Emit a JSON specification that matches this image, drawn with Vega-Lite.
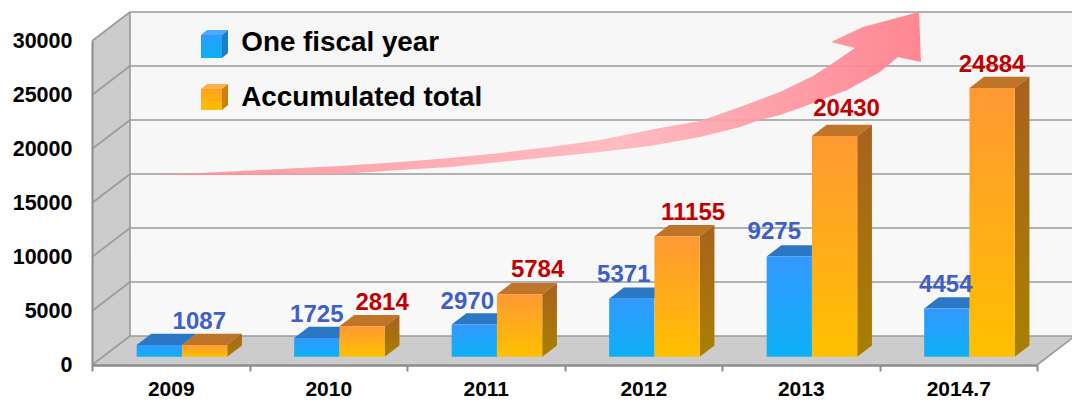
{"$schema":"https://vega.github.io/schema/vega-lite/v6.json","width":945,"height":324,"autosize":{"type":"none"},"padding":{"left":92,"top":41,"right":35,"bottom":36},"background":"white","config":{"view":{"stroke":null},"font":"Liberation Sans"},
"datasets":{
"bars":[{"year":"2009","series":"One fiscal year","value":1087},{"year":"2009","series":"Accumulated total","value":1087},{"year":"2010","series":"One fiscal year","value":1725},{"year":"2010","series":"Accumulated total","value":2814},{"year":"2011","series":"One fiscal year","value":2970},{"year":"2011","series":"Accumulated total","value":5784},{"year":"2012","series":"One fiscal year","value":5371},{"year":"2012","series":"Accumulated total","value":11155},{"year":"2013","series":"One fiscal year","value":9275},{"year":"2013","series":"Accumulated total","value":20430},{"year":"2014.7","series":"One fiscal year","value":4454},{"year":"2014.7","series":"Accumulated total","value":24884}],
"labels":[{"year":"2009","series":"One fiscal year","value":1087,"shift":40,"raise":23},{"year":"2010","series":"One fiscal year","value":1725,"shift":0,"raise":23},{"year":"2011","series":"One fiscal year","value":2970,"shift":-7,"raise":23},{"year":"2012","series":"One fiscal year","value":5371,"shift":-8,"raise":24},{"year":"2013","series":"One fiscal year","value":9275,"shift":-15,"raise":25},{"year":"2014.7","series":"One fiscal year","value":4454,"shift":-1,"raise":24},{"year":"2010","series":"Accumulated total","value":2814,"shift":20,"raise":23},{"year":"2011","series":"Accumulated total","value":5784,"shift":18,"raise":24},{"year":"2012","series":"Accumulated total","value":11155,"shift":16,"raise":23},{"year":"2013","series":"Accumulated total","value":20430,"shift":12,"raise":27},{"year":"2014.7","series":"Accumulated total","value":24884,"shift":0,"raise":22.5}],
"ticks":[{"t":0},{"t":5000},{"t":10000},{"t":15000},{"t":20000},{"t":25000},{"t":30000}],
"cubes":[{"series":"One fiscal year","top":30556,"base":28426},{"series":"Accumulated total","top":25556,"base":23611}],
"arrow":[{"n":0,"x":0.432,"y":17593},{"n":1,"x":0.813,"y":17870},{"n":2,"x":1.194,"y":18148},{"n":3,"x":1.575,"y":18426},{"n":4,"x":1.956,"y":18796},{"n":5,"x":2.273,"y":19167},{"n":6,"x":2.59,"y":19630},{"n":7,"x":2.908,"y":20185},{"n":8,"x":3.225,"y":20833},{"n":9,"x":3.606,"y":21944},{"n":10,"x":3.86,"y":22593},{"n":11,"x":4.114,"y":23889},{"n":12,"x":4.368,"y":25278},{"n":13,"x":4.578,"y":26759},{"n":14,"x":4.705,"y":27963},{"n":15,"x":4.844,"y":29352},{"n":16,"x":4.692,"y":29907},{"n":17,"x":4.895,"y":31296},{"n":18,"x":5.251,"y":32685},{"n":19,"x":5.263,"y":28056},{"n":20,"x":5.117,"y":28519},{"n":21,"x":5.003,"y":27130},{"n":22,"x":4.794,"y":25463},{"n":23,"x":4.495,"y":23796},{"n":24,"x":4.368,"y":23148},{"n":25,"x":4.241,"y":22685},{"n":26,"x":4.114,"y":22037},{"n":27,"x":3.86,"y":21111},{"n":28,"x":3.543,"y":20278},{"n":29,"x":3.225,"y":19722},{"n":30,"x":2.908,"y":19259},{"n":31,"x":2.59,"y":18796},{"n":32,"x":2.273,"y":18333},{"n":33,"x":1.956,"y":18056},{"n":34,"x":1.575,"y":17685},{"n":35,"x":1.003,"y":17593},{"n":36,"x":0.432,"y":17593}]
},
"layer":[
{"data":{"name":"ticks"},"transform":[{"filter":"datum.t===0"}],"mark":{"type":"rect","color":{"x1":0,"y1":0,"x2":0,"y2":1,"gradient":"linear","stops":[{"offset":0,"color":"#f6f6f6"},{"offset":1,"color":"#f9f9f9"}]}},"encoding":{"x":{"datum":0.2413,"type":"quantitative","scale":{"domain":[0,6],"nice":false,"zero":false},"axis":{"title":null,"values":[0,0.5,1,1.5,2,2.5,3,3.5,4,4.5,5,5.5,6],"labelExpr":"datum.value%1===0?'':['2009','2010','2011','2012','2013','2014.7'][floor(datum.value)]","tickOpacity":{"condition":{"test":"datum.value%1!==0","value":0},"value":1},"labelAngle":0,"labelOverlap":false,"labelBound":false,"labelFlush":false,"grid":false,"labelFontSize":21,"labelFontWeight":"bold","labelFont":"Liberation Sans","labelColor":"#000","labelPadding":7,"tickColor":"#8c8c8c","tickWidth":2,"tickSize":6,"domainColor":"#8c8c8c","domainWidth":2.5,"zindex":1}},"x2":{"datum":6.4},"y":{"datum":2685,"type":"quantitative","scale":{"domain":[0,30000],"nice":false},"axis":{"title":null,"values":[0,5000,10000,15000,20000,25000,30000],"format":"d","grid":false,"ticks":false,"labelFontSize":21.5,"labelFontWeight":"bold","labelFont":"Liberation Sans","labelColor":"#000","labelPadding":20,"domainColor":"#8c8c8c","domainWidth":2,"zindex":1}},"y2":{"datum":32685}}},
{"data":{"name":"ticks"},"transform":[{"filter":"datum.t===0"},{"calculate":"[0,1]","as":"d"},{"flatten":["d"]},{"calculate":"datum.d*0.2413","as":"xa"},{"calculate":"datum.d*2685","as":"lo"},{"calculate":"30000+datum.d*2685","as":"hi"}],"mark":{"type":"area","color":"#cccccc","orient":"vertical"},"encoding":{"x":{"field":"xa","type":"quantitative","axis":{"title":null}},"y":{"field":"lo","type":"quantitative","stack":null,"axis":{"title":null}},"y2":{"field":"hi"}}},
{"data":{"name":"ticks"},"transform":[{"filter":"datum.t===0"},{"calculate":"[0,1]","as":"d"},{"flatten":["d"]},{"calculate":"datum.d*0.2413","as":"xa"},{"calculate":"6+datum.d*0.2413","as":"xb"},{"calculate":"datum.d*2685","as":"yy"}],"mark":{"type":"area","color":"#cccccc","orient":"horizontal"},"encoding":{"y":{"field":"yy","type":"quantitative","axis":{"title":null}},"x":{"field":"xa","type":"quantitative","stack":null,"axis":{"title":null}},"x2":{"field":"xb"}}},
{"data":{"name":"ticks"},"transform":[{"calculate":"datum.t+2685","as":"b"}],"mark":{"type":"rule","color":"#9a9a9a","strokeWidth":1.6},"encoding":{"x":{"datum":0,"type":"quantitative","axis":{"title":null}},"x2":{"datum":0.2413},"y":{"field":"t","type":"quantitative","axis":{"title":null}},"y2":{"field":"b"}}},
{"data":{"name":"ticks"},"transform":[{"calculate":"datum.t+2685","as":"b"}],"mark":{"type":"rule","color":"#9a9a9a","strokeWidth":1.6},"encoding":{"x":{"datum":0.2413,"type":"quantitative","axis":{"title":null}},"x2":{"datum":6.4},"y":{"field":"b","type":"quantitative","axis":{"title":null}}}},
{"data":{"name":"ticks"},"transform":[{"filter":"datum.t===0"}],"mark":{"type":"rule","color":"#9a9a9a","strokeWidth":1.6},"encoding":{"x":{"datum":0.2413,"type":"quantitative","axis":{"title":null}},"y":{"datum":2685,"type":"quantitative","axis":{"title":null}},"y2":{"datum":32685}}},
{"data":{"name":"ticks"},"transform":[{"filter":"datum.t===0"}],"mark":{"type":"rule","color":"#9a9a9a","strokeWidth":1.6},"encoding":{"x":{"datum":6,"type":"quantitative","axis":{"title":null}},"x2":{"datum":6.2413},"y":{"datum":0,"type":"quantitative","axis":{"title":null}},"y2":{"datum":2685}}},
{"data":{"name":"arrow"},"mark":{"type":"line","strokeWidth":0,"opacity":0.9,"fill":{"x1":0,"y1":0,"x2":1,"y2":0,"gradient":"linear","stops":[{"offset":0,"color":"#ff8a95"},{"offset":0.25,"color":"#ff9ea6"},{"offset":0.6,"color":"#ffb6bb"},{"offset":0.8,"color":"#ff98a1"},{"offset":1,"color":"#ff7a87"}]}},"encoding":{"x":{"field":"x","type":"quantitative","axis":{"title":null}},"y":{"field":"y","type":"quantitative","axis":{"title":null}},"order":{"field":"n","type":"quantitative"}}},
{"data":{"name":"bars"},"transform":[{"calculate":"indexof(['2009','2010','2011','2012','2013','2014.7'],datum.year)","as":"i"},{"calculate":"datum.i+0.5711+(datum.series==='One fiscal year'?-0.2876:0)","as":"xl"},{"calculate":"[0,1]","as":"d"},{"flatten":["d"]},{"calculate":"datum.xl+datum.d*0.0933","as":"xa"},{"calculate":"datum.xa+0.2876","as":"xb"},{"calculate":"datum.value+769+datum.d*1046","as":"yy"},{"calculate":"datum.year+datum.series","as":"key"}],"mark":{"type":"area","orient":"horizontal"},"encoding":{"detail":{"field":"key"},"y":{"field":"yy","type":"quantitative","axis":{"title":null}},"x":{"field":"xa","type":"quantitative","stack":null,"axis":{"title":null}},"x2":{"field":"xb"},"color":{"condition":{"test":"datum.series==='One fiscal year'","value":"#2a78c4"},"value":"#c07428"}}},
{"data":{"name":"bars"},"transform":[{"filter":"datum.series==='Accumulated total'"},{"calculate":"indexof(['2009','2010','2011','2012','2013','2014.7'],datum.year)","as":"i"},{"calculate":"[0,1]","as":"d"},{"flatten":["d"]},{"calculate":"datum.i+0.8587+datum.d*0.0933","as":"xa"},{"calculate":"datum.value+769+datum.d*1046","as":"yt"},{"calculate":"769+datum.d*1046","as":"yb"}],"mark":{"type":"area","orient":"vertical","color":{"x1":0,"y1":0,"x2":0,"y2":1,"gradient":"linear","stops":[{"offset":0,"color":"#a8621f"},{"offset":1,"color":"#a88000"}]}},"encoding":{"detail":{"field":"year"},"x":{"field":"xa","type":"quantitative","axis":{"title":null}},"y":{"field":"yt","type":"quantitative","stack":null,"axis":{"title":null}},"y2":{"field":"yb"}}},
{"data":{"name":"bars"},"transform":[{"filter":"datum.series==='One fiscal year'"},{"calculate":"indexof(['2009','2010','2011','2012','2013','2014.7'],datum.year)","as":"i"},{"calculate":"datum.i+0.2835","as":"xl"},{"calculate":"datum.xl+0.2876","as":"xr"},{"calculate":"datum.value+769","as":"top"},{"calculate":"769","as":"base"}],"mark":{"type":"rect","color":{"x1":0,"y1":0,"x2":0,"y2":1,"gradient":"linear","stops":[{"offset":0,"color":"#3399ff"},{"offset":1,"color":"#0db0f5"}]}},"encoding":{"x":{"field":"xl","type":"quantitative","axis":{"title":null}},"x2":{"field":"xr"},"y":{"field":"top","type":"quantitative","axis":{"title":null}},"y2":{"field":"base"}}},
{"data":{"name":"bars"},"transform":[{"filter":"datum.series==='Accumulated total'"},{"calculate":"indexof(['2009','2010','2011','2012','2013','2014.7'],datum.year)","as":"i"},{"calculate":"datum.i+0.5711","as":"xl"},{"calculate":"datum.xl+0.2876","as":"xr"},{"calculate":"datum.value+769","as":"top"},{"calculate":"769","as":"base"}],"mark":{"type":"rect","color":{"x1":0,"y1":0,"x2":0,"y2":1,"gradient":"linear","stops":[{"offset":0,"color":"#ff9933"},{"offset":1,"color":"#ffc000"}]}},"encoding":{"x":{"field":"xl","type":"quantitative","axis":{"title":null}},"x2":{"field":"xr"},"y":{"field":"top","type":"quantitative","axis":{"title":null}},"y2":{"field":"base"}}},
{"data":{"name":"cubes"},"mark":{"type":"point","opacity":0,"filled":true},"encoding":{"x":{"datum":0,"type":"quantitative","axis":{"title":null}},"y":{"field":"base","type":"quantitative","axis":{"title":null}},"color":{"field":"series","type":"nominal","sort":null,"scale":{"domain":["One fiscal year","Accumulated total"],"range":["#22a4fa","#ffac1a"]},"legend":{"orient":"none","legendX":108.5,"legendY":-12,"title":null,"symbolType":"square","symbolSize":484,"symbolOpacity":0,"symbolStrokeWidth":0,"labelFont":"Liberation Sans","labelFontSize":27.8,"labelFontWeight":"bold","labelColor":"#000","labelOffset":13,"rowPadding":26,"labelLimit":400}}}},
{"data":{"name":"cubes"},"transform":[{"filter":"datum.series==='One fiscal year'"},{"calculate":"0.692","as":"xl"},{"calculate":"0.8254","as":"xr"}],"mark":{"type":"rect","color":{"x1":0,"y1":0,"x2":0,"y2":1,"gradient":"linear","stops":[{"offset":0,"color":"#2a9cff"},{"offset":1,"color":"#0db0f0"}]}},"encoding":{"x":{"field":"xl","type":"quantitative","axis":{"title":null}},"x2":{"field":"xr"},"y":{"field":"top","type":"quantitative","axis":{"title":null}},"y2":{"field":"base"}}},
{"data":{"name":"cubes"},"transform":[{"filter":"datum.series==='Accumulated total'"},{"calculate":"0.692","as":"xl"},{"calculate":"0.8254","as":"xr"}],"mark":{"type":"rect","color":{"x1":0,"y1":0,"x2":0,"y2":1,"gradient":"linear","stops":[{"offset":0,"color":"#ffa020"},{"offset":1,"color":"#ffc000"}]}},"encoding":{"x":{"field":"xl","type":"quantitative","axis":{"title":null}},"x2":{"field":"xr"},"y":{"field":"top","type":"quantitative","axis":{"title":null}},"y2":{"field":"base"}}},
{"data":{"name":"cubes"},"transform":[{"calculate":"[0,1]","as":"d"},{"flatten":["d"]},{"calculate":"0.692+datum.d*0.0381","as":"xa"},{"calculate":"datum.xa+0.1334","as":"xb"},{"calculate":"datum.top+datum.d*463","as":"yy"}],"mark":{"type":"area","orient":"horizontal"},"encoding":{"detail":{"field":"series"},"y":{"field":"yy","type":"quantitative","axis":{"title":null}},"x":{"field":"xa","type":"quantitative","stack":null,"axis":{"title":null}},"x2":{"field":"xb"},"color":{"condition":{"test":"datum.series==='One fiscal year'","value":"#50a8ff"},"value":"#ffb050"}}},
{"data":{"name":"cubes"},"transform":[{"calculate":"[0,1]","as":"d"},{"flatten":["d"]},{"calculate":"0.8254+datum.d*0.0381","as":"xa"},{"calculate":"datum.top+datum.d*463","as":"yt"},{"calculate":"datum.base+datum.d*463","as":"yb"}],"mark":{"type":"area","orient":"vertical"},"encoding":{"detail":{"field":"series"},"x":{"field":"xa","type":"quantitative","axis":{"title":null}},"y":{"field":"yt","type":"quantitative","stack":null,"axis":{"title":null}},"y2":{"field":"yb"},"color":{"condition":{"test":"datum.series==='One fiscal year'","value":"#1a80c8"},"value":"#cc8010"}}},
{"data":{"name":"labels"},"transform":[{"calculate":"indexof(['2009','2010','2011','2012','2013','2014.7'],datum.year)","as":"i"},{"calculate":"datum.i+0.5711+(datum.series==='One fiscal year'?-0.1438:0.1438)+datum.shift/157.5","as":"lx"},{"calculate":"datum.value+769+datum.raise*92.593","as":"ly"}],"mark":{"type":"text","font":"Liberation Sans","fontWeight":"bold","fontSize":24,"align":"center","baseline":"middle"},"encoding":{"x":{"field":"lx","type":"quantitative","axis":{"title":null}},"y":{"field":"ly","type":"quantitative","axis":{"title":null}},"text":{"field":"value","type":"quantitative","format":"d"},"color":{"condition":{"test":"datum.series==='One fiscal year'","value":"#3f5fc8"},"value":"#c00000"}}}
]}
